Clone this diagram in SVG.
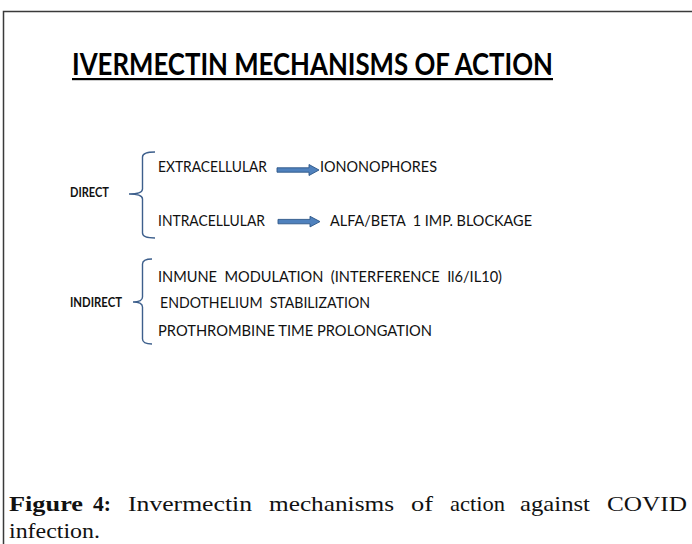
<svg xmlns="http://www.w3.org/2000/svg" width="692" height="544" viewBox="0 0 692 544">
<style>
.frame{fill:none;stroke:#3a3a3a;stroke-width:1.5}
.title{font-family:Lato,"Open Sans","Liberation Sans",sans-serif;font-weight:bold;font-size:30px;fill:#000}
.lbl{font-family:Lato,"Open Sans","Liberation Sans",sans-serif;font-size:15px;fill:#111}
.head{font-family:Lato,"Open Sans","Liberation Sans",sans-serif;font-weight:bold;font-size:13px;fill:#111}
.brace{fill:none;stroke:#3d5f8c;stroke-width:1.4}
.arrow{fill:#4f81bd;stroke:#2c5687;stroke-width:0.9}
.cap{font-family:"Liberation Serif","DejaVu Serif",serif;font-size:22px;fill:#111}
.capb{font-weight:bold}
</style>
<rect width="692" height="544" fill="#fff"/>
<path class="frame" d="M3.5,544 V11.5 H692"/>
<g id="title">
<text class="title" x="72" y="75" textLength="481" lengthAdjust="spacingAndGlyphs">IVERMECTIN MECHANISMS OF ACTION</text>
<rect x="72" y="78" width="481" height="2.2" fill="#000"/>
</g>
<g id="direct"><text class="head" x="70" y="197" textLength="39" lengthAdjust="spacingAndGlyphs">DIRECT</text></g>
<g id="extracellular"><text class="lbl" x="158" y="172" textLength="109" lengthAdjust="spacingAndGlyphs">EXTRACELLULAR</text></g>
<g id="ionophores"><text class="lbl" x="320" y="172" textLength="117" lengthAdjust="spacingAndGlyphs">IONONOPHORES</text></g>
<g id="intracellular"><text class="lbl" x="158" y="226" textLength="107" lengthAdjust="spacingAndGlyphs">INTRACELLULAR</text></g>
<g id="alfabeta"><text class="lbl" x="330" y="226" textLength="202" lengthAdjust="spacingAndGlyphs" xml:space="preserve">ALFA/BETA  1 IMP. BLOCKAGE</text></g>
<g id="indirect"><text class="head" x="70" y="307" textLength="52" lengthAdjust="spacingAndGlyphs">INDIRECT</text></g>
<g id="immune"><text class="lbl" x="158" y="282" textLength="344" lengthAdjust="spacingAndGlyphs" xml:space="preserve">INMUNE  MODULATION  (INTERFERENCE  Il6/IL10)</text></g>
<g id="endothelium"><text class="lbl" x="160" y="308" textLength="210" lengthAdjust="spacingAndGlyphs" xml:space="preserve">ENDOTHELIUM  STABILIZATION</text></g>
<g id="prothrombine"><text class="lbl" x="158" y="336" textLength="274" lengthAdjust="spacingAndGlyphs">PROTHROMBINE TIME PROLONGATION</text></g>
<g id="braces">
<path class="brace" d="M155,152 C147,152 142.5,153 142.5,157 V189 C142.5,192 140,194 129,194 C140,194 142.5,196 142.5,199 V233 C142.5,237 147,238 155,238"/>
<path class="brace" d="M152,259 C146,259 142.5,260 142.5,264 V297 C142.5,300 140,302 133,302 C140,302 142.5,304 142.5,307 V339 C142.5,343 146,344 152,344"/>
</g>
<g id="connectors">
<path class="arrow" d="M277,167.8 H309 V164.5 L319,170 L309,175.5 V172.2 H277 Z"/>
<path class="arrow" d="M278,219.4 H310 V216.3 L320,221.6 L310,226.9 V223.8 H278 Z"/>
</g>
<g id="caption">
<text class="cap capb" x="9" y="511" textLength="74" lengthAdjust="spacingAndGlyphs">Figure</text>
<text class="cap capb" x="93" y="511" textLength="18" lengthAdjust="spacingAndGlyphs">4:</text>
<text class="cap" x="128" y="511" textLength="124" lengthAdjust="spacingAndGlyphs">Invermectin</text>
<text class="cap" x="269" y="511" textLength="125" lengthAdjust="spacingAndGlyphs">mechanisms</text>
<text class="cap" x="411" y="511" textLength="22" lengthAdjust="spacingAndGlyphs">of</text>
<text class="cap" x="450" y="511" textLength="55" lengthAdjust="spacingAndGlyphs">action</text>
<text class="cap" x="520" y="511" textLength="70" lengthAdjust="spacingAndGlyphs">against</text>
<text class="cap" x="607" y="511" textLength="80" lengthAdjust="spacingAndGlyphs">COVID</text>
<text class="cap" x="9" y="538" textLength="91" lengthAdjust="spacingAndGlyphs">infection.</text>
</g>
</svg>
